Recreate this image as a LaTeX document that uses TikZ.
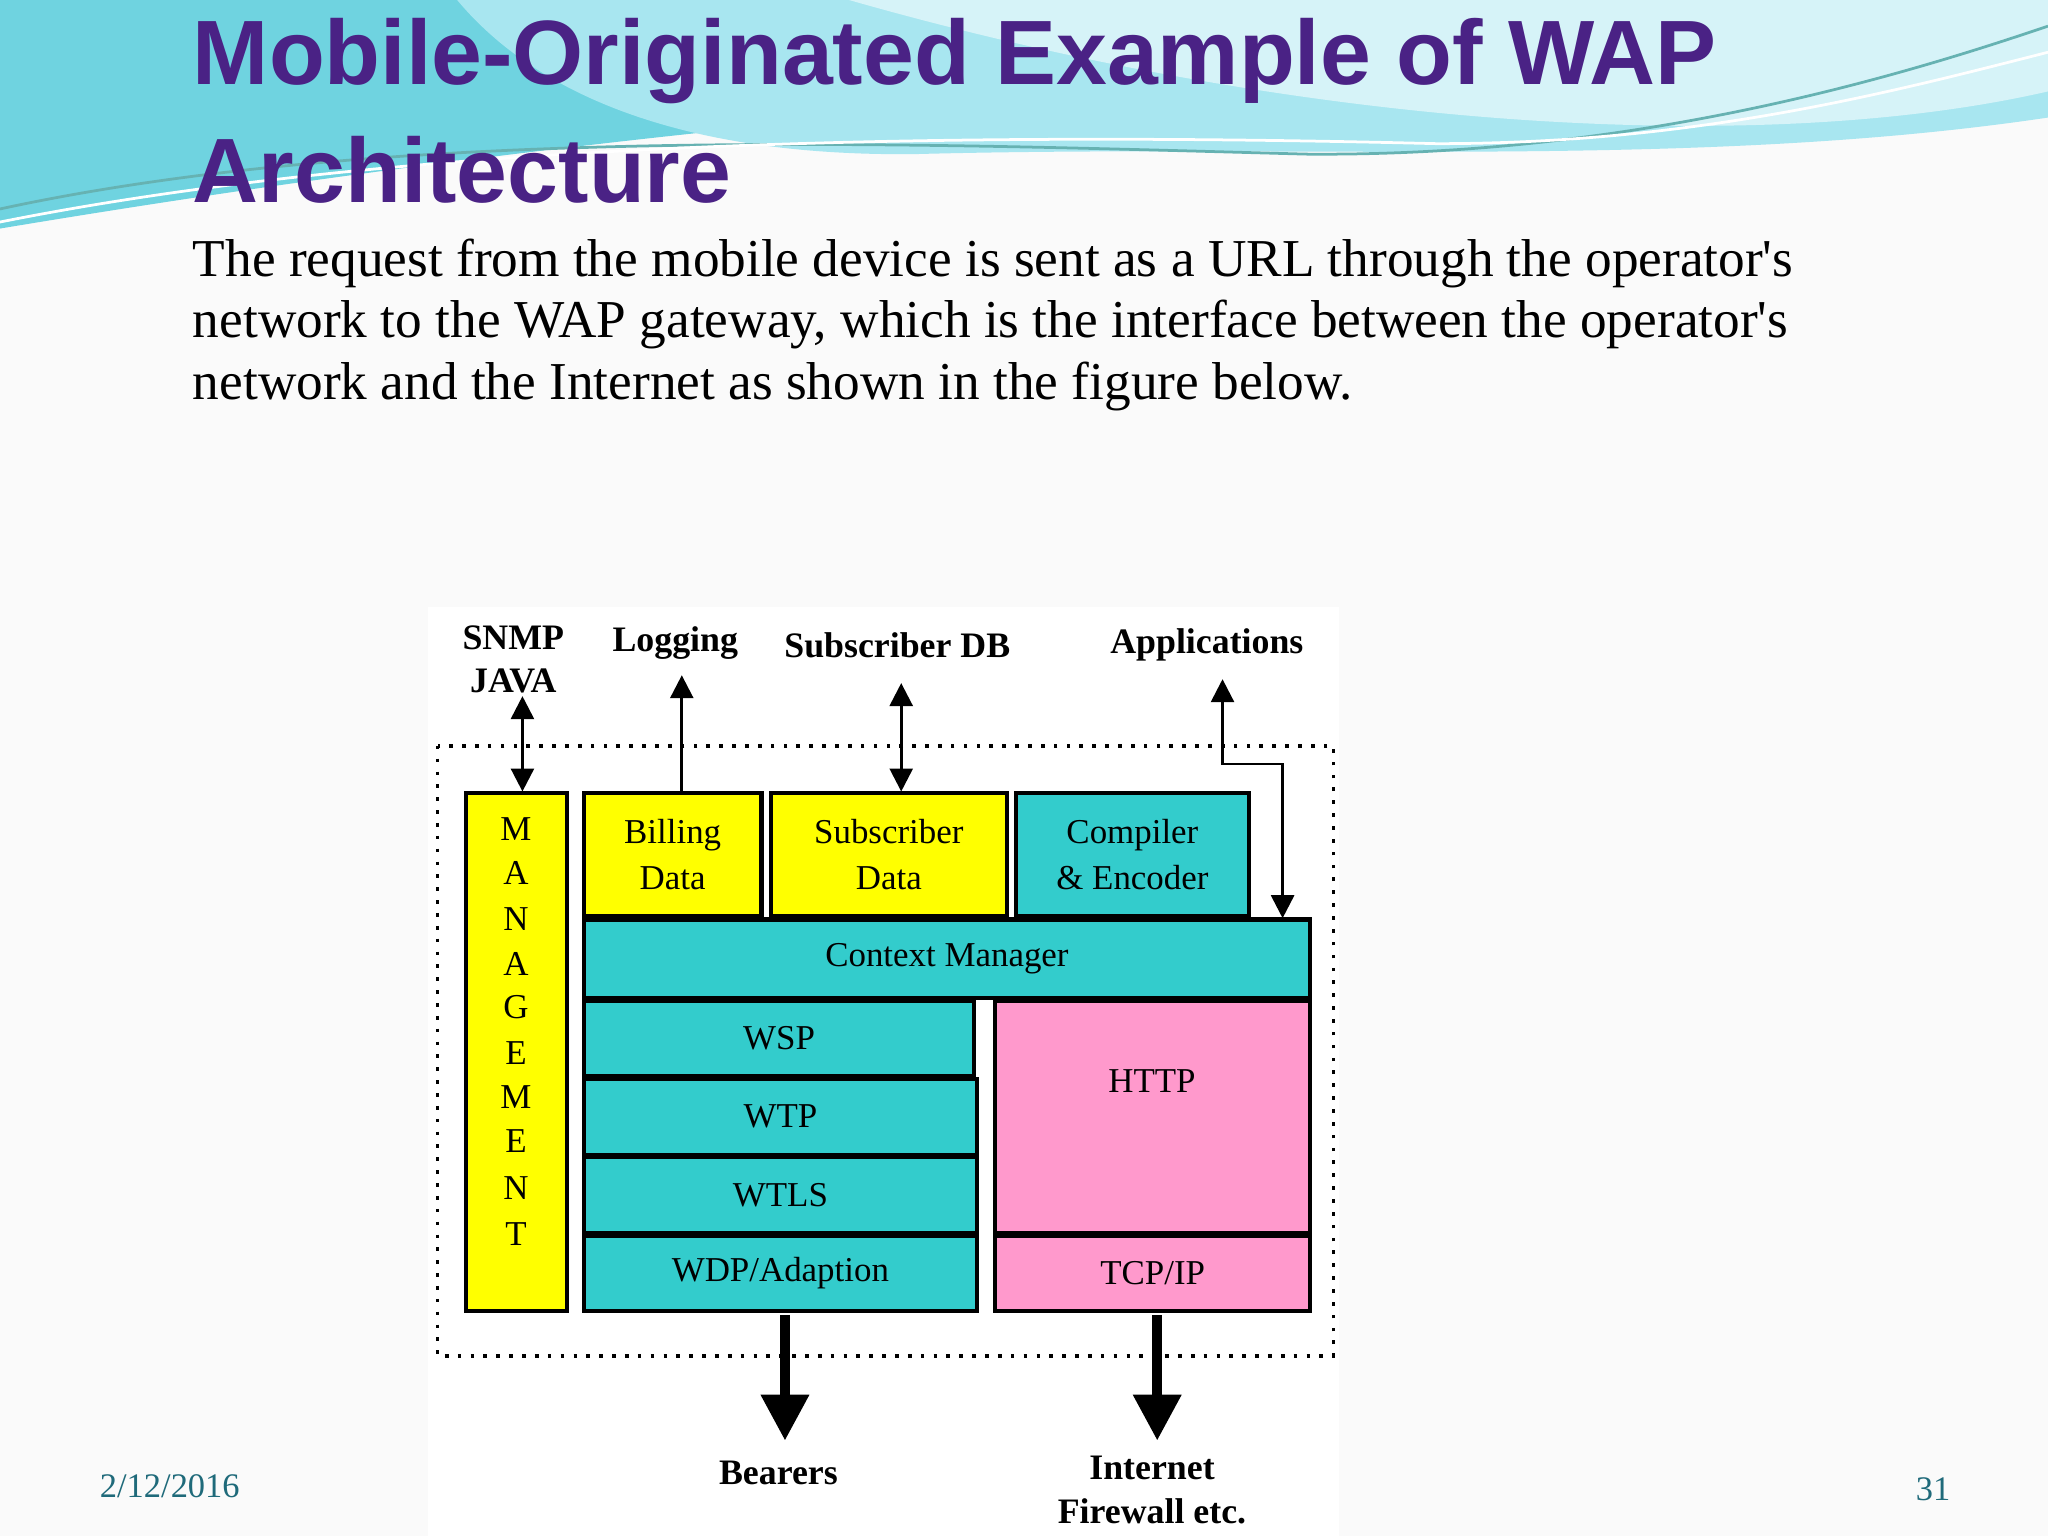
\documentclass[tikz,border=0pt]{standalone}
\usepackage{fontspec}
\setmainfont{Liberation Serif}
\setsansfont{Liberation Sans}
\usetikzlibrary{arrows.meta}
\definecolor{ttl}{HTML}{4A2285}
\definecolor{cyb}{HTML}{33CCCC}
\definecolor{ylw}{HTML}{FFFF00}
\definecolor{pnk}{HTML}{FF99CC}
\definecolor{foot}{HTML}{1F6A7A}
\definecolor{wv1}{HTML}{6FD3E0}
\definecolor{wv2}{HTML}{A8E6F0}
\definecolor{wv3}{HTML}{D6F3F8}
\tikzset{
 px/.style={x=0.01cm,y=-0.01cm},
 box/.style={draw=black,line width=0.9pt},
 bt/.style={align=center,font=\fontsize{7.6}{10}\selectfont},
 lbl/.style={font=\bfseries\fontsize{7.8}{9.5}\selectfont,align=center,inner sep=0pt},
 arr/.style={-{Triangle[length=5pt,width=5pt]},line width=0.6pt},
 darr/.style={{Triangle[length=5pt,width=5pt]}-{Triangle[length=5pt,width=5pt]},line width=0.6pt},
 bigarr/.style={-{Triangle[length=10pt,width=10pt]},line width=2.2pt},
}
\begin{document}
\begin{tikzpicture}[px]
\useasboundingbox (0,0) rectangle (1568,1176);
\fill[gray!4] (0,0) rectangle (1568,1176);
% waves
\fill[wv1] (0,0) -- (1568,0) -- (1568,40) .. controls (1300,110) and (900,60) .. (600,95) .. controls (350,120) and (150,150) .. (0,175) -- cycle;
\fill[wv2] (350,0) -- (1568,0) -- (1568,90) .. controls (1300,130) and (1000,110) .. (700,118) .. controls (500,120) and (400,60) .. (350,0);
\fill[wv3] (650,0) -- (1568,0) -- (1568,70) .. controls (1350,120) and (1000,100) .. (650,0);
\draw[teal!60,line width=0.6pt] (0,160) .. controls (300,95) and (700,110) .. (1000,118) .. controls (1250,120) and (1450,60) .. (1568,20);
\draw[white,line width=0.6pt] (0,170) .. controls (300,110) and (700,100) .. (1100,110) .. controls (1300,110) and (1450,70) .. (1568,40);
% title
\node[anchor=west,text=ttl,font=\sffamily\bfseries\fontsize{19.9}{24}\selectfont,inner sep=0pt] (t1) at (147,47) {Mobile-Originated Example of WAP};
\node[anchor=west,text=ttl,font=\sffamily\bfseries\fontsize{19.9}{24}\selectfont,inner sep=0pt] (t2) at (147,130) {Architecture};
\node[anchor=north west,align=left,font=\fontsize{11.6}{13.4}\selectfont,inner sep=0pt] (body) at (147,182) {The request from the mobile device is sent as a URL through the operator\textquotesingle s\\network to the WAP gateway, which is the interface between the operator\textquotesingle s\\network and the Internet as shown in the figure below.};
% diagram
\fill[white] (328,465) rectangle (1025,1176);
\draw[dotted,line width=0.8pt] (335,571) rectangle (1021,1038);
\draw[box,fill=ylw] (357,607) rectangle (434,1004);
\foreach \l/\y [count=\i] in {M/635,A/668,N/704,A/738,G/771,E/806,M/840,E/874,N/910,T/945}
  \node[bt] (m\i) at (395,\y) {\l};
\draw[box,fill=ylw] (447,607) rectangle (583,701) node[midway,bt] (bd) {Billing\\Data};
\draw[box,fill=ylw] (590,607) rectangle (771,701) node[midway,bt] (sd) {Subscriber\\Data};
\draw[box,fill=cyb] (778,607) rectangle (956,701) node[midway,bt] (ce) {Compiler\\\& Encoder};
\draw[box,fill=cyb] (447,704) rectangle (1003,764) node[midway,bt] (cm) {Context Manager};
\draw[box,fill=cyb] (447,766) rectangle (746,824) node[midway,bt] (wsp) {WSP};
\draw[box,fill=cyb] (447,826) rectangle (748,884) node[midway,bt] (wtp) {WTP};
\draw[box,fill=cyb] (447,886) rectangle (748,944) node[midway,bt] (wtls) {WTLS};
\draw[box,fill=cyb] (447,946) rectangle (748,1004) node[midway,bt] (wdp) {WDP/Adaption};
\draw[box,fill=pnk] (762,766) rectangle (1003,944);
\node[bt] (http) at (882,828) {HTTP};
\draw[box,fill=pnk] (762,946) rectangle (1003,1004) node[midway,bt] (tcp) {TCP/IP};
% labels
\node[lbl] (snmp) at (393,505) {SNMP\\JAVA};
\node[lbl] (log) at (517,492) {Logging};
\node[lbl] (sdb) at (687,494) {Subscriber DB};
\node[lbl] (app) at (924,494) {Applications};
\node[lbl] (bear) at (596,1128) {Bearers};
\node[lbl] (inet) at (882,1141) {Internet\\Firewall etc.};
% arrows
\coordinate (s1) at (400,533); \coordinate (s2) at (400,606);
\draw[darr] (s1) -- (s2);
\coordinate (l1) at (522,606); \coordinate (l2) at (522,517);
\draw[arr] (l1) -- (l2);
\coordinate (d1) at (690,523); \coordinate (d2) at (690,606);
\draw[darr] (d1) -- (d2);
\coordinate (a1) at (982,703); \coordinate (a2) at (936,520);
\draw[darr] (a2) |- (982,585) -- (a1);
\coordinate (b1) at (601,1007); \coordinate (b2) at (601,1103);
\draw[bigarr] (b1) -- (b2);
\coordinate (i1) at (886,1007); \coordinate (i2) at (886,1103);
\draw[bigarr] (i1) -- (i2);
% footer
\node[text=foot,font=\fontsize{7.5}{9}\selectfont] (date) at (130,1138) {2/12/2016};
\node[text=foot,font=\fontsize{7.5}{9}\selectfont] (pg) at (1480,1140) {31};
\end{tikzpicture}
\end{document}
